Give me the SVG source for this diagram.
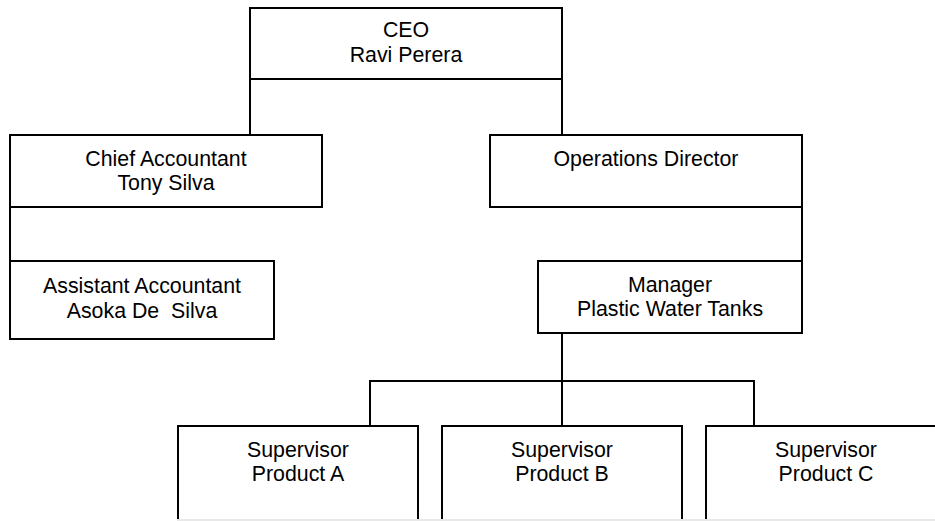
<svg xmlns="http://www.w3.org/2000/svg" width="935" height="521" viewBox="0 0 935 521">
  <style>
    .box { fill: #ffffff; stroke: #000000; stroke-width: 2; }
    .link { fill: none; stroke: #000000; stroke-width: 2; }
    text { font-family: "Liberation Sans", Arial, sans-serif; font-size: 21.33px; fill: #000000; text-anchor: middle; white-space: pre; }
  </style>
  <rect width="935" height="521" fill="#ffffff"/>

  <!-- reporting lines -->
  <g id="connectors">
    <path class="link" d="M250 79 V135"/>
    <path class="link" d="M562 79 V135"/>
    <path class="link" d="M10 207 V261"/>
    <path class="link" d="M802 207 V261"/>
    <path class="link" d="M562 333 V426"/>
    <path class="link" d="M370 426 V381 H754 V426"/>
  </g>

  <g id="ceo">
    <rect class="box" x="250" y="8" width="312" height="71"/>
    <text x="406" y="37">CEO</text>
    <text x="406" y="62">Ravi Perera</text>
  </g>

  <g id="chief-accountant">
    <rect class="box" x="10" y="135" width="312" height="72"/>
    <text x="166" y="166">Chief Accountant</text>
    <text x="166" y="190">Tony Silva</text>
  </g>

  <g id="operations-director">
    <rect class="box" x="490" y="135" width="312" height="72"/>
    <text x="646" y="166">Operations Director</text>
  </g>

  <g id="assistant-accountant">
    <rect class="box" x="10" y="261" width="264" height="78"/>
    <text x="142" y="293">Assistant Accountant</text>
    <text x="142" y="318" xml:space="preserve">Asoka De  Silva</text>
  </g>

  <g id="manager">
    <rect class="box" x="538" y="261" width="264" height="72"/>
    <text x="670" y="292">Manager</text>
    <text x="670" y="316">Plastic Water Tanks</text>
  </g>

  <g id="supervisor-a">
    <rect class="box" x="178" y="426" width="240" height="120"/>
    <text x="298" y="457">Supervisor</text>
    <text x="298" y="481">Product A</text>
  </g>

  <g id="supervisor-b">
    <rect class="box" x="442" y="426" width="240" height="120"/>
    <text x="562" y="457">Supervisor</text>
    <text x="562" y="481">Product B</text>
  </g>

  <g id="supervisor-c">
    <rect class="box" x="706" y="426" width="240" height="120"/>
    <text x="826" y="457">Supervisor</text>
    <text x="826" y="481">Product C</text>
  </g>

  <!-- page edge -->
  <line x1="177" y1="520" x2="935" y2="520" stroke="#e8e8e8" stroke-width="2"/>
</svg>
